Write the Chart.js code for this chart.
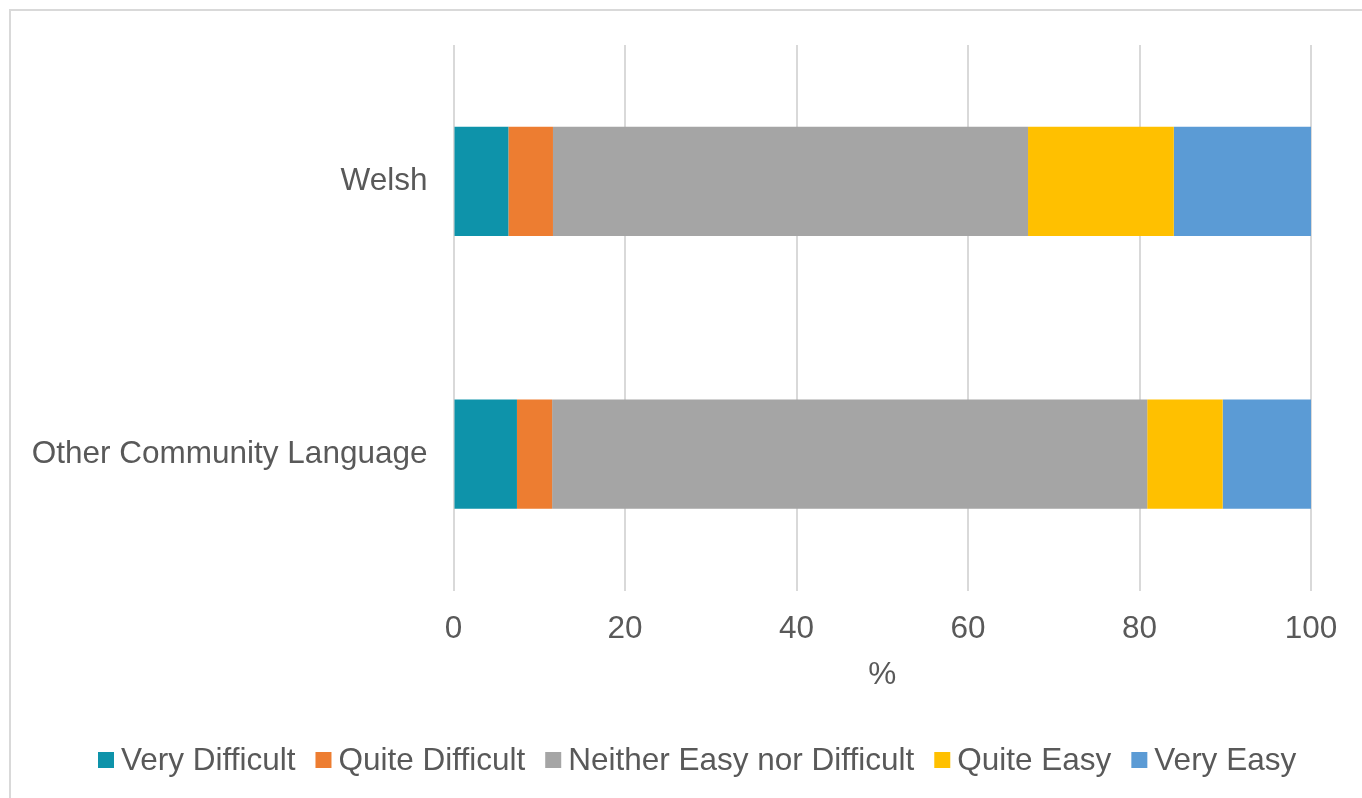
<!DOCTYPE html>
<html>
<head>
<meta charset="utf-8">
<script src="https://cdn.jsdelivr.net/npm/chart.js@4/dist/chart.umd.min.js"></script>
<style>
  html, body { margin: 0; padding: 0; background: #ffffff; overflow: hidden; }
  #wrap { position: relative; width: 1362px; height: 798px; }
  #frame { position: absolute; left: 9px; top: 9px; width: 1420px; height: 900px; border: 2px solid #d9d9d9; box-sizing: border-box; }
  #c { position: absolute; left: 0; top: 0; }
</style>
</head>
<body>
<div id="wrap">
  <div id="frame"></div>
  <canvas id="c" width="1362" height="798"></canvas>
</div>
<script>
const categories = ['Welsh', 'Other Community Language'];
const seriesNames = ['Very Difficult', 'Quite Difficult', 'Neither Easy nor Difficult', 'Quite Easy', 'Very Easy'];
const veryDifficult = [6.4, 7.4];
const quiteDifficult = [5.2, 4.1];
const neitherEasyNorDifficult = [55.4, 69.4];
const quiteEasy = [17.0, 8.8];
const veryEasy = [16.0, 10.3];
const xTickValues = [0, 20, 40, 60, 80, 100];
const xTitle = '%';

const colors = ['#0e93aa', '#ed7d31', '#a5a5a5', '#ffc000', '#5b9bd5'];
const seriesValues = [veryDifficult, quiteDifficult, neitherEasyNorDifficult, quiteEasy, veryEasy];

const FONT = "'Liberation Sans', Arial, sans-serif";
const TEXT = '#595959';
const FS = 31.5;

const customLegend = {
  id: 'customLegend',
  afterDraw(chart) {
    const ctx = chart.ctx;
    ctx.save();
    ctx.font = FS + 'px ' + FONT;
    ctx.textBaseline = 'middle';
    ctx.textAlign = 'left';
    const box = 16, gap = 7, spacing = 20;
    const y = 760;
    let x = 98;
    chart.data.datasets.forEach(ds => {
      ctx.fillStyle = ds.backgroundColor;
      ctx.fillRect(x, y - box / 2, box, box);
      ctx.fillStyle = TEXT;
      ctx.fillText(ds.label, x + box + gap, y + 1);
      x += box + gap + ctx.measureText(ds.label).width + spacing;
    });
    ctx.restore();
  }
};

new Chart(document.getElementById('c'), {
  type: 'bar',
  data: {
    labels: categories,
    datasets: seriesNames.map((name, i) => ({
      label: name,
      data: seriesValues[i],
      backgroundColor: colors[i],
      borderWidth: 0,
      barPercentage: 0.4,
      categoryPercentage: 1.0
    }))
  },
  options: {
    indexAxis: 'y',
    responsive: false,
    animation: false,
    layout: { padding: { top: 45, right: 51, bottom: 98, left: 0 } },
    plugins: {
      legend: { display: false },
      tooltip: { enabled: false }
    },
    scales: {
      x: {
        stacked: true,
        min: 0,
        max: 100,
        afterBuildTicks: s => { s.ticks = xTickValues.map(v => ({ value: v })); },
        afterFit: s => { s.height = 109.5; },
        grid: { color: '#d9d9d9', lineWidth: 2, drawTicks: false },
        border: { display: false },
        ticks: { color: TEXT, font: { family: FONT, size: FS }, padding: 20 },
        title: { display: true, text: xTitle, color: TEXT, font: { family: FONT, size: FS }, padding: { top: 0, bottom: 6 } }
      },
      y: {
        stacked: true,
        afterFit: s => { s.width = 453.5; },
        grid: { display: false, drawTicks: false },
        border: { display: false },
        ticks: { color: TEXT, font: { family: FONT, size: FS }, padding: 26 }
      }
    }
  },
  plugins: [customLegend]
});
</script>
</body>
</html>
